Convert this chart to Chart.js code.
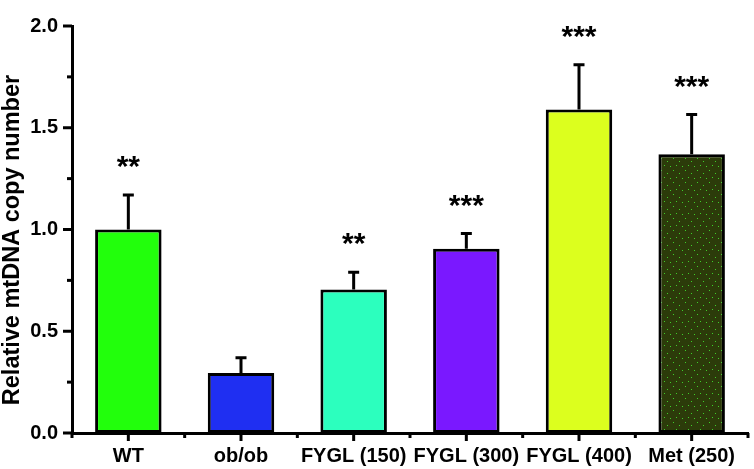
<!DOCTYPE html>
<html>
<head>
<meta charset="utf-8">
<script src="https://cdn.jsdelivr.net/npm/chart.js@4"></script>
<style>
  html, body { margin: 0; padding: 0; background: #fff; }
  #wrap { width: 754px; height: 469px; }
</style>
</head>
<body>
<div id="wrap"><canvas id="mtChart" width="754" height="469"></canvas></div>
<script>
// Groups and values
const groups = ['WT', 'ob/ob', 'FYGL (150)', 'FYGL (300)', 'FYGL (400)', 'Met (250)'];
const copyNumber = [1.0, 0.295, 0.705, 0.905, 1.59, 1.37];
const errorTop = [1.17, 0.37, 0.79, 0.98, 1.81, 1.565];
const stars = ['**', '', '**', '***', '***', '***'];
const yTicks = [0, 0.5, 1.0, 1.5, 2.0];
const yTitle = 'Relative mtDNA copy number';

const fontFamily = '"Liberation Sans", Arial, sans-serif';

// Dotted dark fill for the Met bar
function dottedFill() {
    const c = document.createElement('canvas');
    c.width = 12; c.height = 12;
    const g = c.getContext('2d');
    g.fillStyle = '#2c3b0a';
    g.fillRect(0, 0, 12, 12);
    g.fillStyle = '#3fcf2a';
    [[1, 2], [7, 5], [4, 9], [10, 10]].forEach(p => g.fillRect(p[0], p[1], 1, 1));
    return g.createPattern(c, 'repeat');
}

const barColors = ['#22ff0c', '#1f2ff2', '#2cffbe', '#7a18ff', '#dcff1e', dottedFill()];

// Error bars, significance stars, axis tick marks and the y title
const extrasPlugin = {
    id: 'extras',
    afterDatasetsDraw(chart) {
        const ctx = chart.ctx;
        const y = chart.scales.y;
        const x = chart.scales.x;
        const meta = chart.getDatasetMeta(0);
        ctx.save();
        ctx.strokeStyle = '#000';
        ctx.fillStyle = '#000';
        ctx.lineWidth = 3;

        meta.data.forEach((bar, i) => {
            const top = y.getPixelForValue(errorTop[i]);
            const base = y.getPixelForValue(copyNumber[i]);
            ctx.beginPath();
            ctx.moveTo(bar.x, base);
            ctx.lineTo(bar.x, top);
            ctx.moveTo(bar.x - 5.5, top);
            ctx.lineTo(bar.x + 5.5, top);
            ctx.stroke();

            if (stars[i]) {
                ctx.font = 'bold 30px ' + fontFamily;
                ctx.textAlign = 'center';
                ctx.textBaseline = 'alphabetic';
                // asterisks sit high in the em box; baseline placed so they float ~20px above the cap
                ctx.fillText(stars[i], bar.x, top - 19);
            }
        });

        // y ticks: major every 0.5, minor in between
        const left = chart.chartArea.left;
        for (let v = 0; v <= 2.0001; v += 0.25) {
            const py = y.getPixelForValue(v);
            const major = Math.abs(v * 2 - Math.round(v * 2)) < 1e-6;
            ctx.beginPath();
            ctx.moveTo(left - (major ? 9 : 5), py);
            ctx.lineTo(left, py);
            ctx.stroke();
        }

        // x ticks: major at category centres, minor at boundaries
        const bottom = chart.chartArea.bottom;
        groups.forEach((g, i) => {
            const cx = x.getPixelForValue(i);
            ctx.beginPath();
            ctx.moveTo(cx, bottom);
            ctx.lineTo(cx, bottom + 8);
            ctx.stroke();
        });
        for (let i = 0; i <= groups.length; i++) {
            const bx = x.getPixelForValue(i - 0.5);
            ctx.beginPath();
            ctx.moveTo(bx, bottom);
            ctx.lineTo(bx, bottom + 5);
            ctx.stroke();
        }

        // y axis title, sitting a little below the middle as in the figure
        ctx.translate(13, 240);
        ctx.rotate(-Math.PI / 2);
        ctx.font = 'bold 23.5px ' + fontFamily;
        ctx.textAlign = 'center';
        ctx.textBaseline = 'middle';
        ctx.fillText(yTitle, 0, 0);
        ctx.restore();
    }
};

new Chart(document.getElementById('mtChart').getContext('2d'), {
    type: 'bar',
    data: {
        labels: groups,
        datasets: [{
            data: copyNumber,
            backgroundColor: barColors,
            borderColor: '#000',
            borderWidth: 3,
            borderSkipped: false,
            categoryPercentage: 1.0,
            barPercentage: 0.59
        }]
    },
    options: {
        responsive: false,
        animation: false,
        layout: { padding: { top: 12, right: 6, left: 0, bottom: 0 } },
        plugins: {
            legend: { display: false },
            tooltip: { enabled: false }
        },
        scales: {
            x: {
                afterFit: s => { s.height = 36; },
                grid: { display: false, drawTicks: false },
                border: { display: true, color: '#000', width: 3 },
                ticks: {
                    color: '#000',
                    padding: 11,
                    maxRotation: 0,
                    font: { family: fontFamily, size: 20, weight: 'bold' }
                }
            },
            y: {
                min: 0,
                max: 2.0,
                afterFit: s => { s.width = 72; },
                afterBuildTicks: s => { s.ticks = yTicks.map(v => ({ value: v })); },
                grid: { display: false, drawTicks: false },
                border: { display: true, color: '#000', width: 3 },
                ticks: {
                    color: '#000',
                    padding: 14,
                    callback: v => Number(v).toFixed(1),
                    font: { family: fontFamily, size: 20, weight: 'bold' }
                }
            }
        }
    },
    plugins: [extrasPlugin]
});
</script>
</body>
</html>
